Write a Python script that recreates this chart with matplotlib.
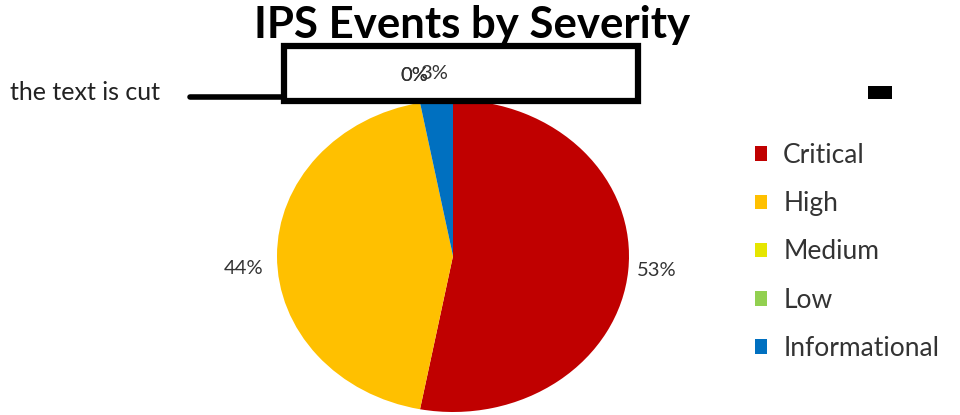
import matplotlib.pyplot as plt
from matplotlib.patches import Rectangle
from matplotlib.lines import Line2D

categories = ["Critical", "High", "Medium", "Low", "Informational"]
shares = [53, 44, 0, 0, 3]
colors = ["#C00000", "#FFC000", "#E6E600", "#92D050", "#0070C0"]

W, H = 960, 415
plt.rcParams['font.family'] = ['Lato', 'DejaVu Sans']


def fx(x):
    return x / W


def fy(y):
    return 1 - y / H


fig = plt.figure(figsize=(9.6, 4.15), dpi=100)

# pie is slightly stretched horizontally in the original, so aspect is auto
cx, cy, rx, ry = 453, 256, 176, 156
ax = fig.add_axes([fx(cx - 1.2 * rx), fy(cy + 1.2 * ry), 2.4 * rx / W, 2.4 * ry / H])
wedges, texts = ax.pie(shares, colors=colors, startangle=90, counterclock=False,
                       labels=["%d%%" % s for s in shares], labeldistance=1.1,
                       textprops=dict(fontsize=14.5, color="#333333"))
ax.set_xlim(-1.2, 1.2)
ax.set_ylim(-1.2, 1.2)
ax.set_aspect('auto')
ax.axis('off')

# where the labels landed in the original (crowded together at the top)
label_pos = [(1.045, -0.09, 'left'), (-1.08, -0.08, 'right'),
             (-0.30, 1.16, 'left'), (-0.30, 1.16, 'left'), (-0.185, 1.17, 'left')]
for t, (x, y, ha) in zip(texts, label_pos):
    t.set_position((x, y))
    t.set_ha(ha)
    t.set_va('center')

fig.text(fx(472), fy(25), "IPS Events by Severity", ha='center', va='center',
         fontsize=31.5, fontweight='bold', color='black')

leg = fig.legend(wedges, categories, loc='upper left', bbox_to_anchor=(fx(755), fy(143)),
                 frameon=False, fontsize=19, handlelength=0.47, handleheight=0.47,
                 handletextpad=0.6, labelspacing=0.88, borderpad=0, borderaxespad=0)
for txt in leg.get_texts():
    txt.set_color('#333333')

# annotation box over the cut labels
fig.add_artist(Rectangle((fx(284), fy(101)), (638 - 284) / W, (101 - 46) / H,
                         fill=False, edgecolor='black', linewidth=4.5,
                         transform=fig.transFigure))
fig.add_artist(Line2D([fx(190), fx(284)], [fy(97), fy(97)], color='black',
                      linewidth=4, solid_capstyle='round', transform=fig.transFigure))
fig.text(fx(10), fy(93), "the text is cut", ha='left', va='center', fontsize=18,
         color='#222222')
fig.add_artist(Rectangle((fx(868), fy(99)), 24 / W, 13 / H, facecolor='black',
                         edgecolor='none', transform=fig.transFigure))

plt.savefig("out.png", dpi=100, facecolor='white')
